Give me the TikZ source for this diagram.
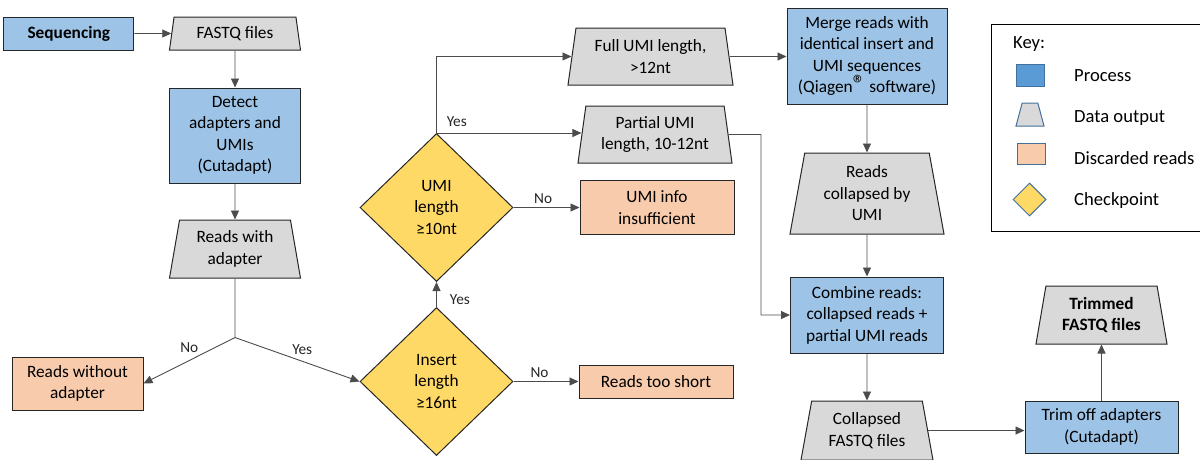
\documentclass[tikz,border=0pt]{standalone}
\usepackage{fontspec}
\setmainfont{Carlito}
\usetikzlibrary{shapes,arrows.meta,positioning}

\definecolor{procblue}{HTML}{9DC3E6}
\definecolor{datagray}{HTML}{D9D9D9}
\definecolor{discpeach}{HTML}{F8CBAD}
\definecolor{checkyellow}{HTML}{FFD966}
\definecolor{keyblue}{HTML}{5B9BD5}
\definecolor{keyborder}{HTML}{41719C}

\begin{document}
\begin{tikzpicture}[x=1pt, y=-1pt,
			every node/.style={font=\fontsize{17.3}{21.5}\selectfont},
			process/.style={
					rectangle,
					draw=black!85,
					line width=1pt,
					fill=procblue,
					align=center,
					inner sep=2pt
				},
			data/.style={
					trapezium,
					trapezium left angle=76,
					trapezium right angle=76,
					trapezium stretches body,
					draw=black!85,
					line width=1pt,
					fill=datagray,
					align=center,
					inner sep=2pt
				},
			discard/.style={process, fill=discpeach},
			check/.style={
					diamond,
					draw=black!85,
					line width=1pt,
					fill=checkyellow,
					align=center,
					inner sep=0pt,
					minimum width=153pt,
					minimum height=148pt
				},
			link/.style={draw=black!70, line width=0.9pt},
			line/.style={link, -{Triangle[length=9pt,width=8pt]}},
			lbl/.style={font=\fontsize{15.3}{18}\selectfont, inner sep=1pt, text=black!85},
			keyicon/.style={draw=keyborder, line width=1pt, inner sep=0pt},
			keytext/.style={font=\fontsize{18.6}{22}\selectfont, anchor=base west, inner sep=0pt}
		]
		\useasboundingbox (0,0) rectangle (1200,459);
		% Place nodes
		\node [data, minimum width=131pt, minimum height=33pt] (fastq) at (235,33.5) {FASTQ files};
		\node [process, left=37pt of fastq, minimum width=130pt, minimum height=33pt] (seq) {\textbf{Sequencing}};
		\node [process, below=37pt of fastq, minimum width=131pt, minimum height=95pt] (detect) {Detect\\adapters and\\UMIs\\(Cutadapt)};
		\node [data, below=36pt of detect, minimum width=131pt, minimum height=58pt] (withadapt) {Reads with\\adapter};
		\coordinate [below=59pt of withadapt] (junc);
		\node [discard, minimum width=131pt, minimum height=53pt] (noadapt) at (77.5,383.5) {Reads without\\adapter};
		\node [check] (insert) at (436.5,381.5) {Insert\\length\\≥16nt};
		\node [check, above=25pt of insert] (umi) {UMI\\length\\≥10nt};
		\node [discard, right=65pt of insert, minimum width=154pt, minimum height=33pt] (short) {Reads too short};
		\node [discard, right=66pt of umi, minimum width=154pt, minimum height=54pt] (umiinfo) {UMI info\\insufficient};
		\node [data, trapezium left angle=78, trapezium right angle=78, minimum width=165pt, minimum height=57pt] (full) at (650.5,56.5) {Full UMI length,\\>12nt};
		\node [data, trapezium left angle=79, trapezium right angle=79, minimum width=154pt, minimum height=57pt] (partial) at (655,134.5) {Partial UMI\\length, 10-12nt};
		\node [process, minimum width=160pt, minimum height=96pt] (merge) at (867,56) {Merge reads with\\identical insert and\\UMI sequences\\(Qiagen{\fontsize{25}{21.5}\selectfont ®} software)};
		\node [data, below=48pt of merge, minimum width=154pt, minimum height=81pt] (collapsed) {Reads\\collapsed by\\UMI};
		\node [process, below=42pt of collapsed, minimum width=153pt, minimum height=76pt] (combine) {Combine reads:\\collapsed reads +\\partial UMI reads};
		\node [data, trapezium left angle=75, trapezium right angle=75, below=47pt of combine, minimum width=132pt, minimum height=59pt] (cfastq) {Collapsed\\FASTQ files};
		\node [process, minimum width=153pt, minimum height=52pt] (trim) at (1101.5,427) {Trim off adapters\\(Cutadapt)};
		\node [data, above=56pt of trim, minimum width=131pt, minimum height=58pt] (trimmed) {\textbf{Trimmed}\\\textbf{FASTQ files}};
		\coordinate (bend) at (761,134.5);
		% Key
		\node [draw, line width=1.2pt, anchor=north west, minimum width=212pt, minimum height=207pt] (keybox) at (991,24) {};
		\node [keytext] (keyhead) at (1013,48.3) {Key:};
		\node [keyicon, rectangle, fill=keyblue, minimum width=28pt, minimum height=22pt] (kproc) at (1030,75) {};
		\node [keyicon, trapezium, trapezium left angle=75, trapezium right angle=75, trapezium stretches body, fill=datagray, inner xsep=0pt, inner ysep=11.5pt, minimum width=28pt] (kdata) at (1030,114.5) {};
		\node [keyicon, rectangle, fill=discpeach, minimum width=28pt, minimum height=21pt] (kdisc) at (1031,153.5) {};
		\node [keyicon, diamond, fill=checkyellow, minimum width=33pt, minimum height=33pt] (kcheck) at (1029.5,199.5) {};
		\node [keytext] (tproc) at (1074,81) {Process};
		\node [keytext] (tdata) at (1074,122.7) {Data output};
		\node [keytext] (tdisc) at (1074,164) {Discarded reads};
		\node [keytext] (tcheck) at (1074,205) {Checkpoint};
		% Draw edges
		\path [line] (seq) -- (fastq);
		\path [line] (fastq) -- (detect);
		\path [line] (detect) -- (withadapt);
		\path [link] (withadapt) -- (junc);
		\path [line] (junc) -- node [lbl, midway, above=6pt] {No} (noadapt.east);
		\path [line] (junc) -- node [lbl, pos=0.54, above=5pt] {Yes} (insert.west);
		\path [line] (insert) -- node [lbl, pos=0.3, right=12pt] {Yes} (umi);
		\path [line] (insert) -- node [lbl, pos=0.4, above=2pt] {No} (short);
		\path [line] (umi) -- node [lbl, pos=0.45, above=2pt] {No} (umiinfo);
		\path [line] (umi.north) -- node [lbl, pos=0.14, above=5pt] {Yes} (umi.north -| partial.west);
		\path [line] (umi.north) |- (full.west);
		\path [line] (full.east) -- (full.east -| merge.west);
		\path [line] (merge) -- (collapsed);
		\path [line] (partial.east) -- (bend) |- (combine.west);
		\path [line] (collapsed) -- (combine);
		\path [line] (combine) -- (cfastq);
		\path [line] (cfastq.east) -- (cfastq.east -| trim.west);
		\path [line] (trim) -- (trimmed);
	\end{tikzpicture}
\end{document}
